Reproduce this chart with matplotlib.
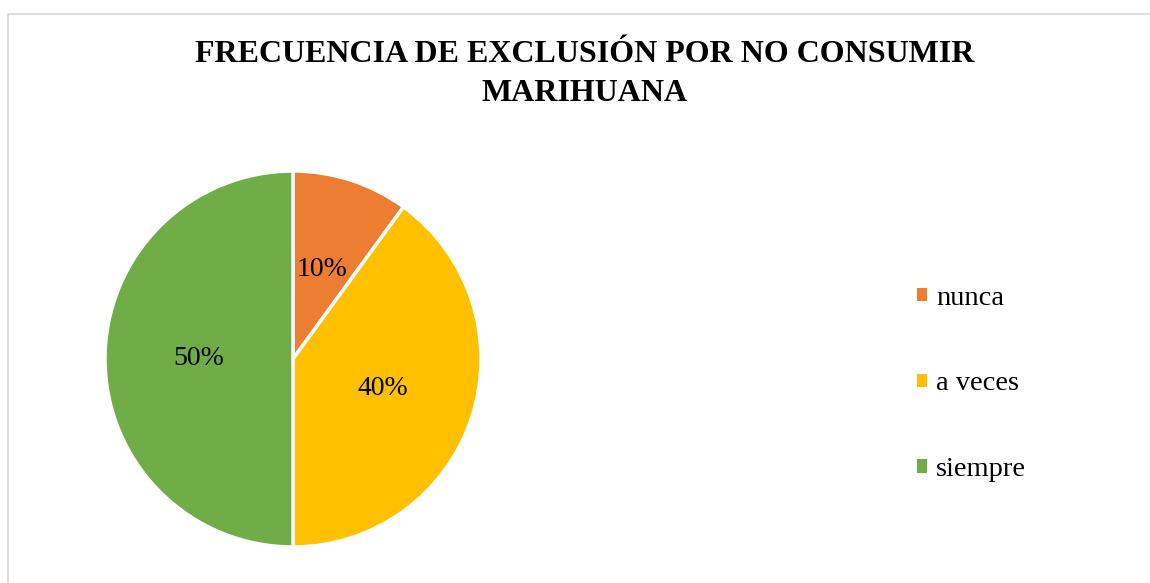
import matplotlib.pyplot as plt
from matplotlib.patches import Rectangle, Patch

categorias = ['nunca', 'a veces', 'siempre']
porcentajes = [10, 40, 50]
colores = ['#ED7D31', '#FFC000', '#70AD47']

plt.rcParams['font.family'] = ['Liberation Serif', 'DejaVu Serif']

fig = plt.figure(figsize=(11.5, 5.83), dpi=100)

# chart border (light gray, runs off the right/bottom edge)
fig.patches.append(Rectangle((8 / 1150, -0.05), 1.2, 1 - 14 / 583 + 0.05,
                             transform=fig.transFigure, fill=False,
                             edgecolor='#D9D9D9', linewidth=1.2))

fig.text(585 / 1150, 1 - 74 / 583, 'FRECUENCIA DE EXCLUSIÓN POR NO CONSUMIR\nMARIHUANA',
         ha='center', va='center', fontsize=23, fontweight='bold', linespacing=1.45)

ax = fig.add_axes([105 / 1150, 36 / 583, 376 / 1150, 376 / 583])
wedges, texts, autotexts = ax.pie(porcentajes, colors=colores, startangle=90, counterclock=False,
                                  autopct='%d%%', pctdistance=0.5, radius=1,
                                  wedgeprops=dict(edgecolor='white', linewidth=2.5),
                                  textprops=dict(fontsize=20, color='black'))
ax.set_xlim(-1, 1)
ax.set_ylim(-1, 1)
ax.set_aspect('equal')

handles = [Patch(facecolor=c, edgecolor='none') for c in colores]
fig.legend(handles, categorias, loc='center left', bbox_to_anchor=(917 / 1150, 1 - 384 / 583),
           frameon=False, fontsize=20.5, handlelength=0.35, handleheight=0.35,
           handletextpad=0.32, labelspacing=2.14, borderpad=0, borderaxespad=0)

fig.savefig('out.png', dpi=100)
